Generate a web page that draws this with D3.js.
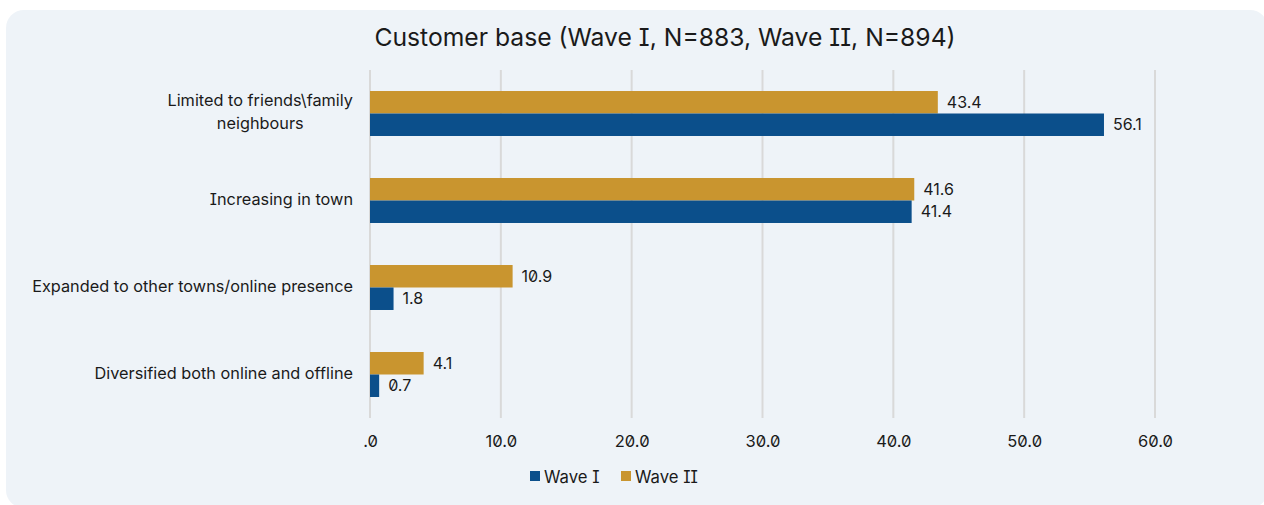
<!DOCTYPE html>
<html>
<head>
<meta charset="utf-8">
<script src="https://cdn.jsdelivr.net/npm/d3@7"></script>
<style>
  html, body { margin: 0; padding: 0; background: #ffffff; }
  svg { display: block; font-family: Inter, "Noto Sans", sans-serif; font-feature-settings: "zero" 1, "cv08" 1; }
</style>
</head>
<body>
<svg id="chart" width="1264" height="505"></svg>
<script>
// Customer base by survey wave
const categories = [
  "Limited to friends\\family neighbours",
  "Increasing in town",
  "Expanded to other towns/online presence",
  "Diversified both online and offline"
];
const categoryLines = [
  ["Limited to friends\\family", "neighbours"],
  ["Increasing in town"],
  ["Expanded to other towns/online presence"],
  ["Diversified both online and offline"]
];
const waveI = [56.1, 41.4, 1.8, 0.7];
const waveII = [43.4, 41.6, 10.9, 4.1];
const seriesNames = ["Wave II", "Wave I"];
const legendNames = ["Wave I", "Wave II"];
const tickValues = [0, 10, 20, 30, 40, 50, 60];

const colors = { "Wave I": "#0b4f8b", "Wave II": "#c9952f" };

const svg = d3.select("#chart");

// panel background
svg.append("rect")
  .attr("x", 6).attr("y", 10)
  .attr("width", 1262).attr("height", 498)
  .attr("rx", 18).attr("ry", 18)
  .attr("fill", "#eef3f8");

svg.append("text")
  .attr("x", 665).attr("y", 46)
  .attr("text-anchor", "middle")
  .attr("font-size", 24.7)
  .attr("fill", "#1a1a1a")
  .text("Customer base (Wave I, N=883, Wave II, N=894)");

const x = d3.scaleLinear().domain([0, 60]).range([370, 1155]);
const y = d3.scaleBand().domain(categories).range([70, 418])
  .paddingInner(0.483).paddingOuter(0.2415);
const ySub = d3.scaleBand().domain(seriesNames).range([0, y.bandwidth()]);

// gridlines
svg.append("g").selectAll("line")
  .data(tickValues)
  .join("line")
  .attr("x1", d => x(d)).attr("x2", d => x(d))
  .attr("y1", 70).attr("y2", 418)
  .attr("stroke", "#d9d9d9")
  .attr("stroke-width", 2);

// x axis tick labels
const axis = d3.axisBottom(x).tickValues(tickValues)
  .tickFormat(d => d === 0 ? ".0" : d3.format(".1f")(d))
  .tickSize(0).tickPadding(0);
const gx = svg.append("g").attr("transform", "translate(0,435)").call(axis);
gx.select(".domain").remove();
gx.selectAll("text")
  .attr("font-size", 16.5)
  .attr("font-family", "Inter, sans-serif")
  .attr("fill", "#1a1a1a");

// category labels
const catG = svg.append("g");
categories.forEach((c, i) => {
  const lines = categoryLines[i];
  const cy = y(c) + y.bandwidth() / 2;
  const lh = 23;
  const t = catG.append("text")
    .attr("text-anchor", "middle")
    .attr("font-size", 16.3)
    .attr("fill", "#1a1a1a");
  lines.forEach((ln, j) => {
    t.append("tspan")
      .attr("x", 0)
      .attr("y", cy + (j - (lines.length - 1) / 2) * lh + 4)
      .text(ln);
  });
  // right-align the block at x=353, centred lines within it
  const w = t.node().getBBox().width;
  t.attr("transform", `translate(${353 - w / 2},0)`);
});

// bars
const rows = categories.map((c, i) => ({ cat: c, "Wave I": waveI[i], "Wave II": waveII[i] }));
const groups = svg.append("g").selectAll("g")
  .data(rows)
  .join("g")
  .attr("transform", d => `translate(0,${y(d.cat)})`);

groups.selectAll("rect")
  .data(d => seriesNames.map(s => ({ s, v: d[s] })))
  .join("rect")
  .attr("x", x(0))
  .attr("y", d => ySub(d.s))
  .attr("width", d => x(d.v) - x(0))
  .attr("height", ySub.bandwidth())
  .attr("fill", d => colors[d.s]);

groups.selectAll("text")
  .data(d => seriesNames.map(s => ({ s, v: d[s] })))
  .join("text")
  .attr("x", d => x(d.v) + 9)
  .attr("y", d => ySub(d.s) + ySub.bandwidth() / 2 + 5.5)
  .attr("font-size", 16)
  .attr("fill", "#1a1a1a")
  .text(d => d3.format(".1f")(d.v));

// legend
const legend = svg.append("g").attr("transform", "translate(530,477)");
const lx = [0, 91];
legendNames.forEach((n, i) => {
  const g = legend.append("g").attr("transform", `translate(${lx[i]},0)`);
  g.append("rect").attr("x", 0).attr("y", -6).attr("width", 10).attr("height", 10)
    .attr("fill", colors[n]);
  g.append("text").attr("x", 14).attr("y", 6)
    .attr("font-size", 16.7).attr("fill", "#1a1a1a")
    .text(n);
});
</script>
</body>
</html>
